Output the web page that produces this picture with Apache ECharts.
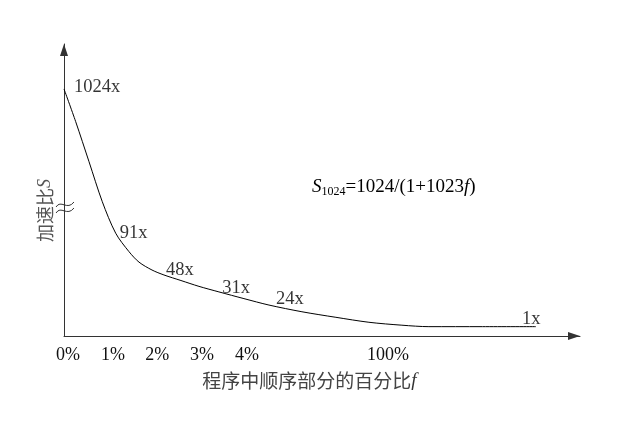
<!DOCTYPE html>
<html>
<head>
<meta charset="utf-8">
<script src="https://cdn.jsdelivr.net/npm/echarts@6/dist/echarts.min.js"></script>
<style>html,body{margin:0;padding:0;background:#fff;}#c{width:627px;height:429px;}</style>
</head>
<body>
<div id="c"></div>
<script>
// Schematic coordinates (x: one unit per tick spacing, y: 0-100 of axis height)
const curveX = [0, 0.26, 0.556, 0.851, 1.149, 1.444, 1.667, 1.956, 2.222, 2.6, 3.0, 3.444, 4.0, 4.556, 5.289, 6.044, 6.778, 7.511, 8.111, 9.3, 10.489];
const curveY = [84.6, 73.4, 59.7, 46.0, 35.2, 28.9, 25.3, 22.6, 20.9, 19.0, 17.0, 15.1, 12.8, 10.6, 8.3, 6.4, 4.7, 3.7, 3.2, 3.2, 3.2];
// Speedup annotations
const speedups = [1024, 91, 48, 31, 24, 1];
const labelX = [0.22, 1.24, 2.27, 3.52, 4.71, 10.18];
const labelY = [85.3, 35.3, 22.4, 16.3, 12.6, 5.8];
// x tick labels
const tickLabels = ['0%', '1%', '2%', '3%', '4%', '100%'];
const tickPos = [0.09, 1.09, 2.07, 3.07, 4.07, 7.2];

const serif = 'Liberation Serif, Times New Roman, serif';
const cjk = 'Noto Sans CJK SC, sans-serif';

const chart = echarts.init(document.getElementById('c'));
chart.setOption({
  animation: false,
  backgroundColor: '#fff',
  grid: { left: 64, right: 47, top: 44, bottom: 93 },
  xAxis: {
    type: 'value', min: 0, max: 11.47,
    axisLine: { show: true, lineStyle: { color: '#333', width: 1 }, symbol: ['none', 'triangle'], symbolSize: [8, 12], symbolOffset: [0, -6] },
    axisTick: { show: false },
    splitLine: { show: false },
    axisLabel: {
      customValues: tickPos,
      formatter: v => tickLabels[tickPos.indexOf(v)],
      margin: 10, fontFamily: serif, fontSize: 18, color: '#111'
    },
    name: '{c|程序中顺序部分的百分比}{i|f}',
    nameLocation: 'middle', nameGap: 35,
    nameTextStyle: {
      padding: [0, 25, 0, 0],
      rich: {
        c: { fontFamily: cjk, fontSize: 19, color: '#444' },
        i: { fontFamily: serif, fontStyle: 'italic', fontSize: 19, color: '#333' }
      }
    }
  },
  yAxis: {
    type: 'value', min: 0, max: 100,
    axisLine: { show: true, lineStyle: { color: '#333', width: 1 }, symbol: ['none', 'triangle'], symbolSize: [8, 12], symbolOffset: [0, -6] },
    axisTick: { show: false },
    splitLine: { show: false },
    axisLabel: { show: false },
    name: '{c|加速比}{i|S}',
    nameLocation: 'middle', nameRotate: 90, nameGap: 10,
    nameTextStyle: {
      padding: [0, 41, 0, 0],
      rich: {
        c: { fontFamily: cjk, fontSize: 18, color: '#555' },
        i: { fontFamily: serif, fontStyle: 'italic', fontSize: 18, color: '#555' }
      }
    }
  },
  series: [
    {
      type: 'line',
      data: curveX.map((x, i) => [x, curveY[i]]),
      smooth: 0.3,
      symbol: 'none',
      lineStyle: { color: '#000', width: 1 },
      silent: true
    },
    {
      type: 'scatter',
      data: speedups.map((s, i) => [labelX[i], labelY[i], s]),
      symbolSize: 0,
      label: {
        show: true, position: 'right', distance: 0,
        formatter: p => p.value[2] + 'x',
        fontFamily: serif, fontSize: 18.5, color: '#000'
      },
      silent: true
    }
  ],
  graphic: [
    {
      type: 'text', x: 312, y: 187,
      style: {
        text: '{i|S}{sub|1024}{n|=1024/(1+1023}{i|f}{n|)}',
        verticalAlign: 'middle',
        rich: {
          i: { fontFamily: serif, fontStyle: 'italic', fontSize: 19, fill: '#000', verticalAlign: 'middle', lineHeight: 22 },
          n: { fontFamily: serif, fontSize: 19, fill: '#000', verticalAlign: 'middle', lineHeight: 22 },
          sub: { fontFamily: serif, fontSize: 12, fill: '#000', verticalAlign: 'bottom', lineHeight: 14 }
        }
      }
    },
    {
      type: 'group',
      children: [
        { type: 'bezierCurve', shape: { x1: 56, y1: 207, cpx1: 61, cpy1: 199, cpx2: 67, cpy2: 211, x2: 74, y2: 202 }, style: { stroke: '#333', lineWidth: 1, fill: null } },
        { type: 'bezierCurve', shape: { x1: 56, y1: 213, cpx1: 61, cpy1: 205, cpx2: 67, cpy2: 217, x2: 74, y2: 208 }, style: { stroke: '#333', lineWidth: 1, fill: null } }
      ]
    }
  ]
});
</script>
</body>
</html>
